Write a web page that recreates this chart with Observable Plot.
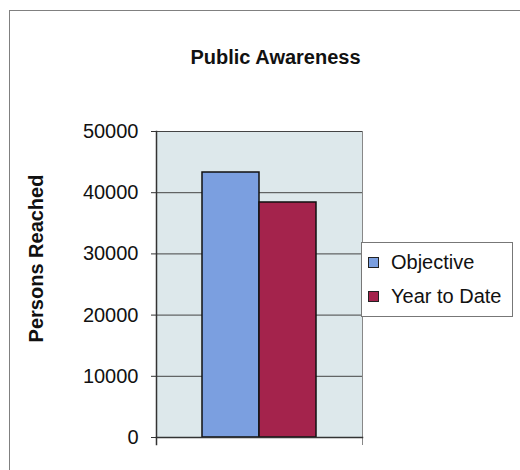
<!DOCTYPE html>
<html>
<head>
<meta charset="utf-8">
<script src="https://cdn.jsdelivr.net/npm/d3@7"></script>
<script src="https://cdn.jsdelivr.net/npm/@observablehq/plot@0.6"></script>
<style>
  html, body { margin: 0; padding: 0; background: #fff; }
  #wrap { position: relative; width: 520px; height: 470px; overflow: hidden; font-family: "Liberation Sans", Arial, sans-serif; }
  #wrap svg { position: absolute; left: 0; top: 0; }
  #border { position: absolute; left: 9px; top: 10px; width: 540px; height: 500px; border-left: 1.5px solid #808080; border-top: 1.5px solid #808080; }
  #legend { position: absolute; left: 361px; top: 242px; width: 152px; height: 75px; background: #fff; border: 1px solid #777; box-sizing: border-box; }
  .item { position: absolute; left: 6px; display: flex; align-items: center; font-size: 20px; color: #111; white-space: nowrap; }
  .sw { width: 9px; height: 9px; border: 1.5px solid #222; margin-right: 12px; }
</style>
</head>
<body>
<div id="wrap"><div id="border"></div></div>
<script>
const title = "Public Awareness";
const yLabel = "Persons Reached";
const series = ["Objective", "Year to Date"];
const values = [43300, 38400];
const yTicks = [0, 10000, 20000, 30000, 40000, 50000];
const colors = ["#7b9fe0", "#a4234c"];

const data = series.map((s, i) => ({series: s, value: values[i]}));

const chart = Plot.plot({
  width: 520,
  height: 470,
  marginLeft: 156,
  marginRight: 158,
  marginTop: 131,
  marginBottom: 33,
  style: {fontFamily: "Liberation Sans, Arial, sans-serif", fontSize: "20px", color: "#111", background: "transparent"},
  x: {domain: series, paddingInner: 0, paddingOuter: 0.79, axis: null},
  y: {domain: [0, 50000]},
  color: {domain: series, range: colors},
  marks: [
    Plot.frame({fill: "#dde8eb", stroke: "#8a8a8a", strokeWidth: 1}),
    Plot.gridY(yTicks, {stroke: "#444", strokeOpacity: 1, strokeWidth: 1}),
    Plot.barY(data, {x: "series", y: "value", fill: "series", stroke: "#111", strokeWidth: 1.5}),
    Plot.axisY(yTicks, {tickFormat: d => String(d), tickSize: 5, tickPadding: 13, label: null, stroke: "#333", fontSize: 20}),
    Plot.frame({anchor: "left", stroke: "#333", strokeWidth: 1.5, insetBottom: -7}),
    Plot.frame({anchor: "right", stroke: "#888", strokeWidth: 1, insetBottom: -7}),
    Plot.frame({anchor: "bottom", stroke: "#333", strokeWidth: 1.5}),
    Plot.text([title], {frameAnchor: "top", textAnchor: "middle", lineAnchor: "middle", dx: 16, dy: -74, fontWeight: "bold", fontSize: 20, fill: "#111"}),
    Plot.text([yLabel], {frameAnchor: "left", textAnchor: "middle", lineAnchor: "middle", dx: -120, dy: -26, rotate: -90, fontWeight: "bold", fontSize: 20, fill: "#111"})
  ]
});
const wrap = document.getElementById("wrap");
wrap.appendChild(chart);

const legend = document.createElement("div");
legend.id = "legend";
series.forEach((s, i) => {
  const it = document.createElement("div");
  it.className = "item";
  it.style.top = (i === 0 ? 8 : 42) + "px";
  const sw = document.createElement("span");
  sw.className = "sw";
  sw.style.background = colors[i];
  const t = document.createElement("span");
  t.textContent = s;
  it.appendChild(sw);
  it.appendChild(t);
  legend.appendChild(it);
});
wrap.appendChild(legend);
</script>
</body>
</html>
